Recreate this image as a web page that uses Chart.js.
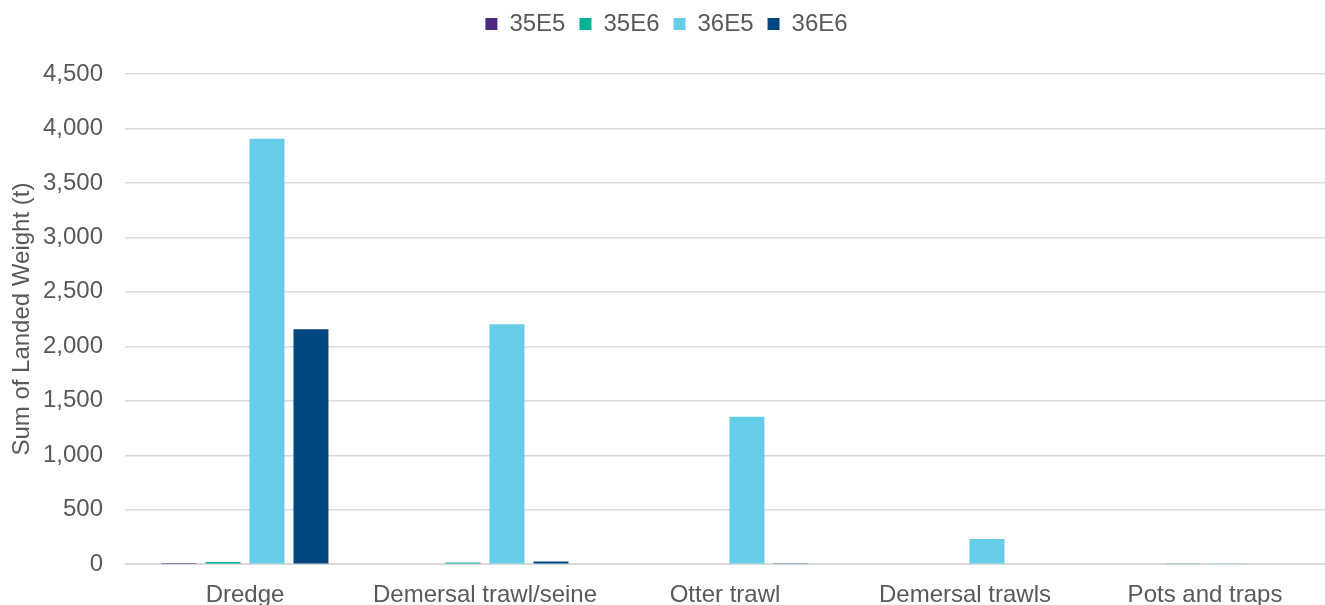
<!DOCTYPE html>
<html>
<head>
<meta charset="utf-8">
<script src="https://cdn.jsdelivr.net/npm/chart.js@4/dist/chart.umd.min.js"></script>
<style>
  html, body { margin: 0; padding: 0; background: #fff; }
  #wrap { width: 1325px; height: 605px; }
</style>
</head>
<body>
<div id="wrap"><canvas id="myChart"></canvas></div>
<script>
//Categories along the x axis
const gearTypes = ["Dredge", "Demersal trawl/seine", "Otter trawl", "Demersal trawls", "Pots and traps"];
//Landed weight (t) per ICES rectangle
const w35E5 = [10, 0, 0, 0, 0];
const w35E6 = [20, 15, 0, 0, 3];
const w36E5 = [3906, 2203, 1354, 231, 3];
const w36E6 = [2156, 25, 8, 0, 0];
const yTicks = [0, 500, 1000, 1500, 2000, 2500, 3000, 3500, 4000, 4500];

const textColor = "#595959";
const gridColor = "#d9d9d9";
const fontFamily = "'Liberation Sans', Arial, sans-serif";

Chart.defaults.font.family = fontFamily;
Chart.defaults.color = textColor;

//Give the legend some extra room underneath so the plot starts lower
const legendGap = {
    id: 'legendGap',
    beforeInit(chart) {
        const origFit = chart.legend.fit;
        chart.legend.fit = function() {
            origFit.bind(chart.legend)();
            this.height += 28;
        };
    }
};

var ctx = document.getElementById("myChart");
var myChart = new Chart(ctx, {
    type: 'bar',
    data: {
        labels: gearTypes,
        datasets: [
            { label: "35E5", data: w35E5, backgroundColor: "#4b2882" },
            { label: "35E6", data: w35E6, backgroundColor: "#00b294" },
            { label: "36E5", data: w36E5, backgroundColor: "#66cde8" },
            { label: "36E6", data: w36E6, backgroundColor: "#00467f" }
        ]
    },
    plugins: [legendGap],
    options: {
        responsive: true,
        maintainAspectRatio: false,
        animation: false,
        devicePixelRatio: 1,
        categoryPercentage: 0.733,
        barPercentage: 0.795,
        layout: { padding: { top: -2, right: 0, bottom: -21, left: 8 } },
        plugins: {
            tooltip: { enabled: false },
            legend: {
                position: 'top',
                labels: {
                    boxWidth: 12,
                    boxHeight: 12,
                    padding: 14,
                    color: textColor,
                    font: { size: 24 }
                }
            }
        },
        scales: {
            x: {
                grid: { display: false, drawTicks: false },
                border: { color: gridColor, width: 1 },
                ticks: { color: textColor, font: { size: 24 }, padding: 16.5, maxRotation: 0 }
            },
            y: {
                min: 0,
                max: 4500,
                afterFit: function(scale) { scale.width = 117; },
                afterBuildTicks: function(scale) {
                    scale.ticks = yTicks.map(function(v) { return { value: v }; });
                },
                grid: { color: gridColor, lineWidth: 1.5, drawTicks: false },
                border: { display: false },
                ticks: {
                    color: textColor,
                    font: { size: 24 },
                    padding: 22,
                    callback: function(v) { return v.toLocaleString('en-US'); }
                },
                title: {
                    display: true,
                    text: "Sum of Landed Weight (t)",
                    color: textColor,
                    font: { size: 24 },
                    padding: { top: 0, bottom: 4 }
                }
            }
        }
    }
});
</script>
</body>
</html>
